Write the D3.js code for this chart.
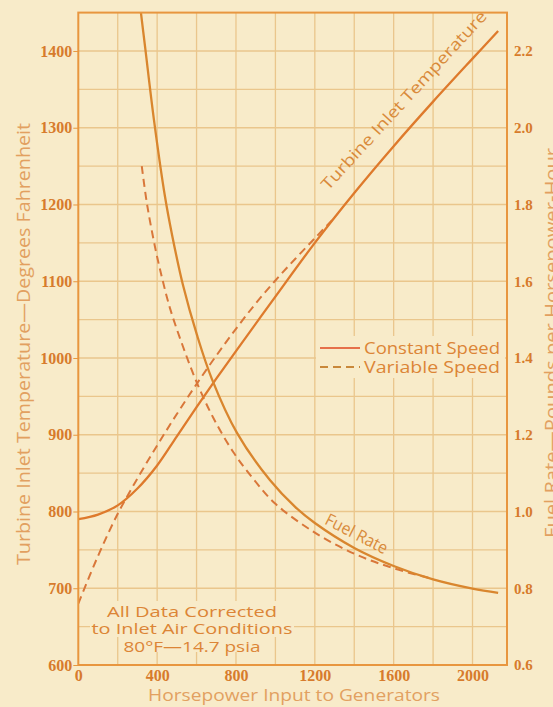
<!DOCTYPE html>
<html>
<head>
<meta charset="utf-8">
<script src="https://cdn.jsdelivr.net/npm/d3@7"></script>
<style>
  body { margin: 0; background: #f8ebc9; }
  svg { display: block; }
  text { font-family: "Open Sans", sans-serif; }
</style>
</head>
<body>
<div id="chart"></div>
<script>
// horsepower vs turbine inlet temperature (deg F)
const tempConstHp   = [0, 100, 200, 300, 400, 500, 600, 700, 800, 1000, 1200, 1400, 1600, 1800, 2000, 2130];
const tempConstVals = [790, 796, 808, 830, 860, 898, 936, 973, 1009, 1080, 1150, 1215, 1276, 1334, 1390, 1426];
const tempVarHp     = [0, 100, 200, 300, 400, 500, 600, 700, 800, 900, 1000, 1100, 1200, 1300];
const tempVarVals   = [680, 742, 797, 843, 886, 927, 966, 1003, 1038, 1071, 1101, 1129, 1156, 1183];

// horsepower vs fuel rate (lb per hp-hr)
const fuelConstHp   = [313, 339, 384, 440, 476, 531, 602, 678, 805, 972, 1100, 1200, 1400, 1600, 1800, 2000, 2130];
const fuelConstVals = [2.32, 2.21, 2.02, 1.82, 1.72, 1.59, 1.46, 1.345, 1.205, 1.082, 1.012, 0.97, 0.905, 0.858, 0.823, 0.799, 0.788];
const fuelVarHp     = [322, 349, 389, 415, 465, 531, 602, 684, 786, 888, 1000, 1200, 1400, 1600, 1800];
const fuelVarVals   = [1.90, 1.80, 1.69, 1.63, 1.53, 1.43, 1.335, 1.245, 1.155, 1.085, 1.02, 0.945, 0.89, 0.852, 0.824];

const xTicks = [0, 400, 800, 1200, 1600, 2000];
const tempTicks = [600, 700, 800, 900, 1000, 1100, 1200, 1300, 1400];
const fuelTicks = [0.6, 0.8, 1.0, 1.2, 1.4, 1.6, 1.8, 2.0, 2.2];
const noteLines = ["All Data Corrected", "to Inlet Air Conditions", "80\u00b0F\u201414.7 psia"];

const dims = { width: 553, height: 707, left: 78.3, right: 507, top: 12.6, bottom: 665 };
const bg = "#f8ebc9", gridC = "#eac68c", frameC = "#e8963f", textC = "#dc8536", titleC = "#e2a060";
const solidC = "#de7a2c", dashC = "#d9773a";

const svg = d3.select("#chart").append("svg")
    .attr("width", dims.width).attr("height", dims.height);

const x = d3.scaleLinear().domain([0, 2175]).range([dims.left, dims.right]);
const yT = d3.scaleLinear().domain([600, 1450]).range([dims.bottom, dims.top]);
const yF = d3.scaleLinear().domain([0.6, 2.3]).range([dims.bottom, dims.top]);

svg.append("defs").append("clipPath").attr("id", "plot")
    .append("rect")
    .attr("x", dims.left).attr("y", dims.top)
    .attr("width", dims.right - dims.left).attr("height", dims.bottom - dims.top);

// grid
const grid = svg.append("g").attr("stroke", gridC).attr("stroke-width", 1.3);
grid.selectAll(".v").data(d3.range(200, 2100, 200)).join("line")
    .attr("x1", d => x(d)).attr("x2", d => x(d))
    .attr("y1", dims.top).attr("y2", dims.bottom);
grid.selectAll(".h").data(d3.range(650, 1450, 50)).join("line")
    .attr("x1", dims.left).attr("x2", dims.right)
    .attr("y1", d => yT(d)).attr("y2", d => yT(d));

// curves
const curves = svg.append("g").attr("clip-path", "url(#plot)").attr("fill", "none");
const line = (xs, ys, yScale) => d3.line().curve(d3.curveCatmullRom.alpha(0.5))
    .x((d, i) => x(xs[i])).y(d => yScale(d))(ys);

curves.append("path").attr("d", line(tempVarHp, tempVarVals, yT))
    .attr("stroke", dashC).attr("stroke-width", 2).attr("stroke-dasharray", "8,5");
curves.append("path").attr("d", line(fuelVarHp, fuelVarVals, yF))
    .attr("stroke", dashC).attr("stroke-width", 2).attr("stroke-dasharray", "8,5");
curves.append("path").attr("d", line(tempConstHp, tempConstVals, yT))
    .attr("stroke", solidC).attr("stroke-width", 2.3);
curves.append("path").attr("d", line(fuelConstHp, fuelConstVals, yF))
    .attr("stroke", "#d9862e").attr("stroke-width", 2.3);

// legend (covers grid)
svg.append("rect").attr("x", 316).attr("y", 336).attr("width", 189).attr("height", 42).attr("fill", bg);
const leg = [{ label: "Constant Speed", dash: null, y: 348, c: "#e6704a" },
             { label: "Variable Speed", dash: "8,5", y: 367, c: "#c9883a" }];
leg.forEach(l => {
    svg.append("line").attr("x1", 320).attr("x2", 360).attr("y1", l.y).attr("y2", l.y)
        .attr("stroke", l.c).attr("stroke-width", 2).attr("stroke-dasharray", l.dash);
    svg.append("text").attr("x", 364).attr("y", l.y).attr("dy", "0.35em")
        .attr("fill", textC).style("font-size", "16px")
        .attr("textLength", 136).attr("lengthAdjust", "spacingAndGlyphs")
        .text(l.label);
});

// note box (covers grid)
svg.append("rect").attr("x", 90).attr("y", 601).attr("width", 204).attr("height", 36).attr("fill", bg);
svg.append("rect").attr("x", 120).attr("y", 636).attr("width", 152).attr("height", 16).attr("fill", bg);
const noteW = [170, 201, 137];
noteLines.forEach((t, i) => {
    svg.append("text").attr("x", 192).attr("y", 612 + i * 17.5).attr("dy", "0.35em")
        .attr("text-anchor", "middle").attr("fill", textC).style("font-size", "14px")
        .attr("textLength", noteW[i]).attr("lengthAdjust", "spacingAndGlyphs")
        .text(t);
});

// frame
svg.append("rect")
    .attr("x", dims.left).attr("y", dims.top)
    .attr("width", dims.right - dims.left).attr("height", dims.bottom - dims.top)
    .attr("fill", "none").attr("stroke", frameC).attr("stroke-width", 2);

// axes
const tickFont = g => g.selectAll("text")
    .style("font-family", "'Liberation Serif', serif").style("font-weight", "bold")
    .style("font-size", "16px").attr("fill", "#d77b2c");

svg.append("g").attr("transform", `translate(${dims.left},0)`)
    .call(d3.axisLeft(yT).tickValues(tempTicks).tickSize(5).tickPadding(1).tickFormat(d3.format("d")))
    .call(g => g.select(".domain").remove())
    .call(g => g.selectAll("line").attr("stroke", frameC))
    .call(tickFont);

svg.append("g").attr("transform", `translate(${dims.right},0)`)
    .call(d3.axisRight(yF).tickValues(fuelTicks).tickSize(0).tickPadding(7).tickFormat(d3.format(".1f")))
    .call(g => g.select(".domain").remove())
    .call(tickFont)
    .call(g => g.selectAll("text").style("font-size", "15px"));

svg.append("g").attr("transform", `translate(0,${dims.bottom})`)
    .call(d3.axisBottom(x).tickValues(xTicks).tickSize(0).tickPadding(5).tickFormat(d3.format("d")))
    .call(g => g.select(".domain").remove())
    .call(tickFont);

// axis titles
svg.append("text").attr("transform", "translate(30,344) rotate(-90)")
    .attr("text-anchor", "middle").attr("fill", titleC).style("font-size", "18px")
    .attr("textLength", 442).attr("lengthAdjust", "spacingAndGlyphs")
    .text("Turbine Inlet Temperature\u2014Degrees Fahrenheit");

// partly past the right edge, as in the original
svg.append("text").attr("transform", "translate(558,343) rotate(-90)")
    .attr("text-anchor", "middle").attr("fill", titleC).style("font-size", "18px")
    .attr("textLength", 390).attr("lengthAdjust", "spacingAndGlyphs")
    .text("Fuel Rate\u2014Pounds per Horsepower-Hour");

svg.append("text").attr("x", 294).attr("y", 701)
    .attr("text-anchor", "middle").attr("fill", titleC).style("font-size", "17px")
    .attr("textLength", 292).attr("lengthAdjust", "spacingAndGlyphs")
    .text("Horsepower Input to Generators");

// curve labels
svg.append("text").attr("transform", "translate(408,104) rotate(-47.5)")
    .attr("text-anchor", "middle").attr("fill", "#d98a3a").style("font-size", "16px")
    .attr("textLength", 236).attr("lengthAdjust", "spacingAndGlyphs")
    .text("Turbine Inlet Temperature");

svg.append("text").attr("transform", "translate(354,539) rotate(27)")
    .attr("text-anchor", "middle").attr("fill", "#d98a3a").style("font-size", "17px")
    .attr("textLength", 68).attr("lengthAdjust", "spacingAndGlyphs")
    .text("Fuel Rate");
</script>
</body>
</html>
